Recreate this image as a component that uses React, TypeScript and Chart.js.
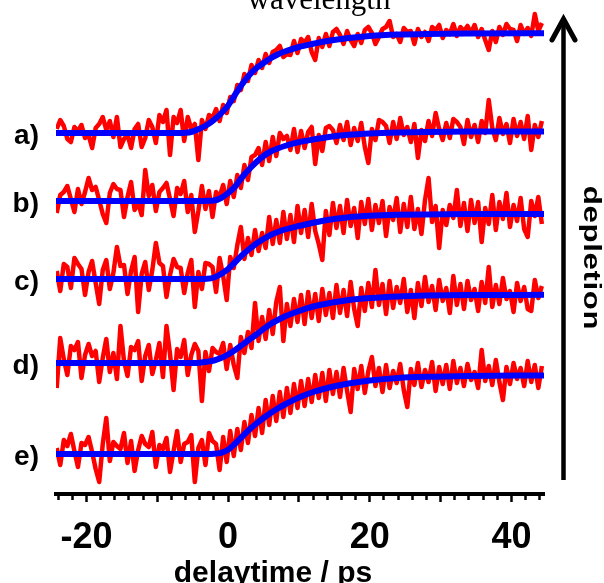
import React, { useEffect, useRef } from 'react';
import { Chart, registerables } from 'chart.js';

Chart.register(...registerables);

// ---- data ----
const X_MIN = -24.3;
const X_MAX = 44.6;
const T_START = -24.2; // first sample time (ps)
const T_STEP = 0.5; // sampling interval (ps)
const X_TICK_LABELS = [-20, 0, 20, 40];

const TRACE_LABELS = ['a)', 'b)', 'c)', 'd)', 'e)'];
// vertical offset of each trace (arb. units)
const OFFSETS = [36.1, 29.3, 21.5, 13.1, 4.0];

// measured transients (signal relative to each trace's baseline)
const RED_A = [
  0.4, 1.3, 0.7, -0.6, -0.9, 0.6, 0.2, 0.8, -0.5, -0.2,
  -1.5, 0.5, 0.9, 1.6, 0.3, 1.2, -0.4, 1.6, -1.4, -0.6,
  -0.2, -1.5, 0.4, 0.9, -1.4, -0.5, 1.3, 0.6, -1.0, 1.8,
  1.1, 2.3, -2.2, 1.6, 1.0, 2.3, -0.8, 1.6, 0.4, 0.9,
  -2.7, 1.3, 0.4, 1.8, 1.5, 2.4, 1.2, 2.8, 2.0, 3.6,
  3.2, 4.8, 4.3, 5.9, 5.2, 6.8, 6.0, 7.3, 6.5, 7.9,
  7.0, 8.1, 8.3, 8.7, 7.6, 7.9, 7.8, 9.2, 8.0, 9.4,
  9.0, 9.6, 8.1, 7.3, 9.5, 8.6, 9.9, 8.7, 10.1, 10.4,
  9.8, 8.9, 10.2, 9.3, 8.7, 9.9, 9.0, 10.3, 10.6, 10.0,
  8.9, 9.6, 10.4, 10.6, 11.2, 9.6, 9.9, 9.1, 10.5, 10.1,
  10.2, 8.9, 10.4, 9.6, 10.1, 9.2, 10.6, 10.3, 10.8, 9.5,
  10.3, 9.9, 10.9, 9.7, 10.6, 10.2, 10.7, 10.0, 10.8, 9.6,
  10.4, 9.3, 8.3, 10.2, 9.1, 10.6, 9.8, 10.9, 10.4, 10.3,
  9.2, 10.8, 9.9, 10.5, 9.7, 11.9, 10.2, 11.0,
];
const RED_B = [
  -1.2, 0.6, 0.9, 1.5, 0.2, -1.1, 1.2, -0.3, 0.9, 2.3,
  1.1, 1.4, 0.1, -1.3, -2.2, 0.8, 1.7, 1.2, 1.1, -1.6,
  0.4, 1.9, -0.9, -0.2, -1.4, 3.1, 0.5, 1.6, -1.0, 0.9,
  1.3, 1.8, 0.2, -1.5, 1.3, 0.7, 2.0, -1.1, 0.6, -3.1,
  -1.0, 1.5, -0.8, 1.0, -1.6, 0.9, 0.4, 1.6, -0.3, 2.0,
  0.4, 2.6, 1.3, 3.6, 2.1, 4.4, 4.6, 5.3, 3.6, 5.9,
  4.0, 6.4, 4.5, 6.8, 6.2, 6.5, 5.1, 7.2, 4.9, 7.0,
  5.3, 6.9, 7.4, 3.7, 6.6, 5.0, 7.3, 7.5, 7.1, 5.8,
  7.6, 6.1, 7.9, 5.6, 7.3, 6.0, 7.8, 5.4, 3.8, 7.2,
  6.1, 8.1, 7.9, 7.5, 5.8, 7.9, 6.2, 8.3, 6.6, 7.4,
  5.9, 7.7, 4.3, 7.1, 6.0, 8.0, 6.5, 8.8, 7.2, 6.1,
  7.8, 6.3, 8.2, 7.9, 7.4, 5.7, 8.1, 6.4, 7.6, 5.9,
  8.0, 6.8, 10.1, 7.3, 6.1, 8.3, 6.7, 7.7, 5.8, 8.2,
  6.5, 7.9, 6.2, 8.5, 5.1, 7.6, 6.4, 8.0,
];
const RED_C = [
  0.8, -1.2, 1.5, 1.2, -0.9, 2.1, 1.5, 1.0, -1.6, 0.7,
  1.8, -0.4, -2.5, 0.9, 1.9, -1.0, 0.6, 3.2, 1.3, 1.4,
  -1.5, 0.8, 2.2, -3.3, 0.5, 1.7, -1.1, 0.9, 3.6, 1.6,
  1.3, -1.8, 0.4, 2.0, 1.2, 1.1, -1.4, 0.6, 1.9, -2.8,
  0.7, -1.0, 1.6, 1.5, 1.2, -1.3, 2.1, 0.3, -2.1, 2.2,
  1.1, 3.4, 5.2, 2.0, 4.1, 2.4, 4.9, 2.8, 4.6, 3.1,
  6.2, 3.5, 5.9, 3.6, 6.7, 4.0, 6.4, 3.7, 7.3, 4.6,
  6.9, 4.2, 7.5, 4.8, 3.5, 1.9, 6.8, 4.4, 7.6, 5.1,
  7.3, 4.6, 7.9, 5.3, 7.1, 4.1, 7.7, 5.5, 8.0, 4.9,
  7.4, 5.6, 7.8, 4.3, 7.2, 5.9, 8.1, 4.7, 7.5, 5.2,
  8.2, 5.0, 7.0, 4.5, 7.9, 10.1, 5.7, 7.3, 3.1, 6.9,
  5.4, 7.4, 6.1, 8.9, 5.3, 7.6, 4.8, 7.9, 5.6, 7.7,
  3.7, 7.1, 5.5, 8.4, 4.9, 7.7, 6.0, 8.6, 5.2, 7.4,
  5.8, 8.1, 5.0, 4.2, 7.8, 6.3, 8.2, 5.5,
];
const RED_D = [
  -2.5, 2.5, 0.4, -1.2, 1.7, 1.3, 2.1, -1.5, 0.8, 1.9,
  0.7, 1.2, -1.9, 0.5, 2.4, -0.9, 1.0, -1.6, 3.7, 0.2,
  -1.3, 1.6, 1.3, 2.2, -1.8, 0.7, 1.8, -1.1, 0.3, 2.0,
  -1.4, 3.7, 0.9, -2.7, 1.4, 0.6, 2.3, -1.2, 0.8, 1.9,
  1.2, -3.8, 1.1, -0.8, 1.5, 1.1, 0.9, 2.0, -0.6, 1.8,
  -0.2, -1.5, 2.6, 1.0, 3.1, 1.5, 6.0, 2.2, 4.6, 2.4,
  5.3, 2.9, 6.1, 7.6, 2.2, 5.9, 3.7, 6.4, 4.1, 6.8,
  3.9, 7.1, 4.5, 6.9, 4.2, 7.4, 4.8, 7.0, 4.5, 7.8,
  5.0, 7.3, 4.7, 8.1, 5.4, 3.7, 7.5, 5.2, 8.0, 5.6,
  9.3, 5.8, 7.9, 4.9, 8.2, 5.5, 7.6, 6.0, 8.4, 5.1,
  7.3, 4.5, 8.0, 5.7, 8.6, 6.1, 7.7, 5.3, 8.3, 6.2,
  7.5, 5.0, 8.7, 5.8, 7.9, 5.4, 8.2, 6.3, 7.4, 5.2,
  8.1, 6.0, 9.6, 5.6, 7.8, 5.9, 8.5, 6.4, 7.2, 5.1,
  8.0, 6.2, 7.6, 5.4, 5.2, 8.3, 6.5, 7.7,
];
const RED_E = [
  0.6, -1.1, 1.4, 0.8, 2.0, 0.3, -1.3, 1.1, 0.9, 1.7,
  0.2, -1.5, -2.8, 1.0, 3.6, -0.7, 1.2, 0.8, 0.5, 2.1,
  -0.9, 1.3, -1.7, 0.4, 1.8, 1.0, 0.7, 2.2, -1.3, 0.9,
  0.5, 1.6, -1.8, 0.3, 2.3, -0.8, 1.0, 1.2, 1.9, -2.8,
  0.6, 1.4, -1.1, 2.1, 1.3, 1.0, -1.6, 1.7, -0.8, 2.3,
  -0.2, 2.5, 0.4, 3.2, 1.1, 3.9, 1.8, 4.6, 2.1, 5.4,
  2.9, 5.8, 3.3, 6.2, 3.7, 6.6, 4.1, 7.0, 4.6, 7.3,
  4.8, 7.5, 5.2, 7.9, 5.6, 8.1, 5.3, 8.4, 6.0, 8.2,
  5.7, 8.6, 6.3, 4.2, 8.5, 6.5, 8.8, 6.1, 8.3, 9.7,
  6.8, 8.6, 6.2, 8.9, 6.6, 8.3, 7.1, 9.0, 6.4, 4.7,
  8.5, 6.9, 9.1, 6.7, 8.4, 7.2, 9.2, 6.3, 8.7, 7.0,
  8.9, 6.5, 9.3, 7.1, 8.6, 6.8, 9.0, 7.4, 8.2, 6.6,
  10.4, 7.3, 8.8, 6.9, 9.4, 7.2, 5.4, 8.7, 7.0, 9.1,
  7.5, 8.6, 6.8, 9.3, 7.2, 8.9, 6.6, 8.8,
];

// fitted curves, sampled at FIT_T
const FIT_T = [-24.3, -7, -6, -5, -4, -3, -2, -1, 0, 1, 2, 3, 4, 5, 6, 7, 8, 10, 12, 14, 17, 20, 24, 28, 34, 44.6];
const FIT_A = [0, 0, 0.02, 0.15, 0.44, 0.8, 1.32, 1.95, 2.75, 3.85, 4.9, 5.8, 6.5, 7.0, 7.48, 7.85, 8.15, 8.6, 8.92, 9.2, 9.5, 9.7, 9.84, 9.91, 9.95, 9.97];
const FIT_B = [0, 0, 0, 0, 0, 0.02, 0.05, 0.3, 0.8, 1.45, 2.4, 3.2, 3.9, 4.5, 4.95, 5.25, 5.5, 5.88, 6.15, 6.38, 6.62, 6.76, 6.86, 6.91, 6.94, 6.95];
const FIT_C = [0, 0, 0, 0, 0, 0.02, 0.15, 0.5, 1.0, 1.7, 2.4, 3.0, 3.55, 4.0, 4.4, 4.7, 4.95, 5.3, 5.62, 5.9, 6.18, 6.33, 6.42, 6.46, 6.49, 6.5];
const FIT_D = [0, 0, 0, 0, 0.03, 0.12, 0.25, 0.5, 0.85, 1.3, 1.82, 2.35, 2.85, 3.4, 3.9, 4.3, 4.65, 5.2, 5.65, 5.95, 6.3, 6.5, 6.66, 6.74, 6.79, 6.82];
const FIT_E = [0, 0, 0, 0, 0, 0, 0.02, 0.12, 0.42, 1.05, 1.75, 2.45, 3.05, 3.6, 4.1, 4.55, 4.95, 5.65, 6.2, 6.6, 7.05, 7.35, 7.6, 7.72, 7.81, 7.85];

const REDS = [RED_A, RED_B, RED_C, RED_D, RED_E];
const FITS = [FIT_A, FIT_B, FIT_C, FIT_D, FIT_E];

const SANS = '"Liberation Sans", Arial, Helvetica, sans-serif';
const SERIF = '"Liberation Serif", "Times New Roman", serif';

const decorPlugin = {
  id: 'decor',
  afterDraw(chart: any) {
    const { ctx, chartArea } = chart;
    ctx.save();
    ctx.fillStyle = '#000';
    // cut-off title at the top
    ctx.font = `31px ${SERIF}`;
    ctx.textAlign = 'center';
    ctx.textBaseline = 'alphabetic';
    ctx.fillText('wavelength', 319, 9);
    // x-axis title
    ctx.font = `bold 30px ${SANS}`;
    ctx.fillText('delaytime / ps', 273, 582);
    // depletion arrow
    const ax = chartArea.right + 19.5;
    ctx.strokeStyle = '#000';
    ctx.lineWidth = 4.5;
    ctx.lineCap = 'butt';
    ctx.beginPath();
    ctx.moveTo(ax, 480);
    ctx.lineTo(ax, 20);
    ctx.stroke();
    ctx.lineWidth = 5;
    ctx.lineCap = 'round';
    ctx.lineJoin = 'miter';
    ctx.beginPath();
    ctx.moveTo(ax - 11.5, 40);
    ctx.lineTo(ax, 19);
    ctx.lineTo(ax + 11.5, 40);
    ctx.stroke();
    // rotated label
    ctx.translate(591, 258);
    ctx.rotate(Math.PI / 2);
    ctx.scale(1.3, 1);
    ctx.font = `bold 24px ${SANS}`;
    ctx.textAlign = 'center';
    ctx.textBaseline = 'middle';
    try { (ctx as any).letterSpacing = '0.5px'; } catch (e) { /* ignore */ }
    ctx.fillText('depletion', 0, 0);
    ctx.restore();
  },
};

export default function App() {
  const ref = useRef<HTMLCanvasElement | null>(null);

  useEffect(() => {
    if (!ref.current) return;
    const times = RED_A.map((_, i) => T_START + i * T_STEP);
    const fitSets = FITS.map((fit, k) => ({
      label: `fit ${TRACE_LABELS[k]}`,
      data: FIT_T.map((t, i) => ({ x: t, y: OFFSETS[k] + fit[i] })),
      borderColor: '#0000ff',
      borderWidth: 6,
      pointRadius: 0,
      cubicInterpolationMode: 'monotone' as const,
      fill: false,
    }));
    const redSets = REDS.map((arr, k) => ({
      label: `data ${TRACE_LABELS[k]}`,
      data: arr.map((v, i) => ({ x: times[i], y: OFFSETS[k] + v })),
      borderColor: '#ff0000',
      borderWidth: 4.5,
      borderJoinStyle: 'round' as const,
      pointRadius: 0,
      tension: 0,
      fill: false,
    }));

    const chart = new Chart(ref.current, {
      type: 'line',
      data: { datasets: [...fitSets, ...redSets] },
      options: {
        animation: false,
        responsive: false,
        devicePixelRatio: 1,
        layout: { padding: { left: 0, right: 60, top: 10, bottom: 0 } },
        plugins: { legend: { display: false }, tooltip: { enabled: false }, title: { display: false } },
        scales: {
          x: {
            type: 'linear',
            position: 'bottom',
            min: X_MIN,
            max: X_MAX,
            afterFit: (axis: any) => {
              axis.height = 89;
              axis.paddingLeft = 0;
              axis.paddingRight = 0;
            },
            border: { display: true, color: '#000', width: 4 },
            grid: {
              display: true,
              drawOnChartArea: false,
              drawTicks: true,
              tickLength: 8,
              tickWidth: 2.5,
              tickColor: '#000',
              tickBorderDash: (c: any) => (c.tick && Math.abs(c.tick.value % 10) < 1e-6 ? [] : [4, 20]),
            },
            ticks: {
              stepSize: 2,
              autoSkip: false,
              includeBounds: false,
              maxRotation: 0,
              padding: 14,
              color: '#000',
              font: { family: SANS, size: 36, weight: 'bold' },
              callback: (v: any) => (X_TICK_LABELS.includes(Number(v)) ? String(v) : ''),
            },
          },
          y: {
            type: 'linear',
            position: 'left',
            min: 0,
            max: 48.4,
            afterFit: (axis: any) => {
              axis.width = 56;
              axis.paddingTop = 0;
              axis.paddingBottom = 0;
            },
            border: { display: false },
            grid: { display: false, drawTicks: false },
            afterBuildTicks: (axis: any) => {
              axis.ticks = OFFSETS.map((v) => ({ value: v }));
            },
            ticks: {
              autoSkip: false,
              padding: 17,
              labelOffset: 3,
              color: '#000',
              font: { family: SANS, size: 28, weight: 'bold' },
              callback: (v: any) => {
                const i = OFFSETS.indexOf(Number(v));
                return i >= 0 ? TRACE_LABELS[i] : '';
              },
            },
          },
        },
      },
      plugins: [decorPlugin],
    } as any);
    return () => chart.destroy();
  }, []);

  return (
    <div style={{ position: 'fixed', left: 0, top: 0, width: 604, height: 583, background: '#fff' }}>
      <canvas ref={ref} width={604} height={583} style={{ display: 'block', width: 604, height: 583 }} />
    </div>
  );
}
